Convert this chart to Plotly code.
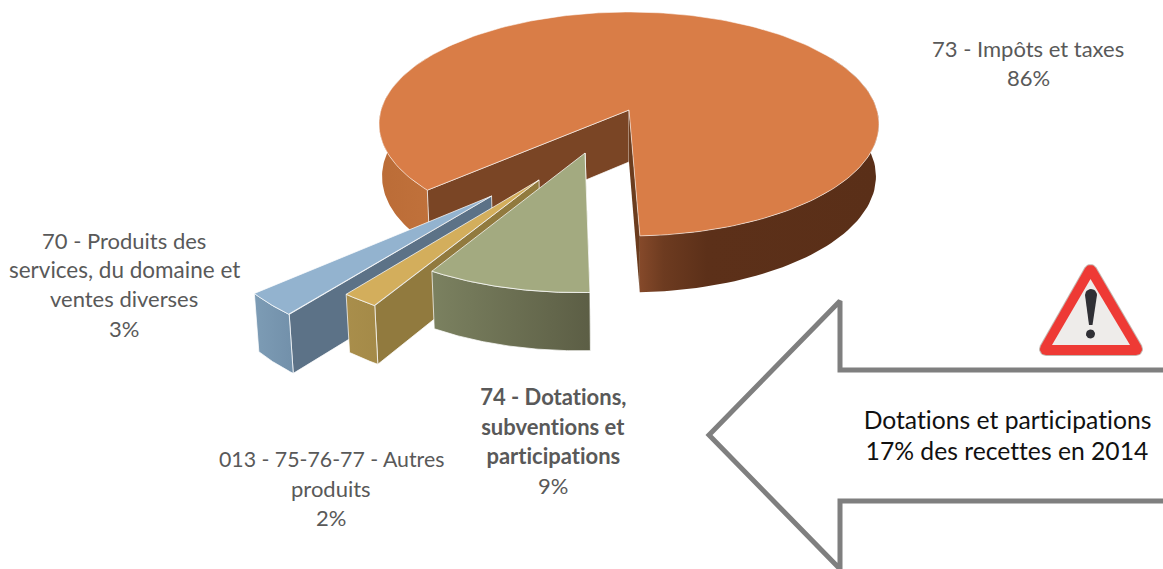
import math
import plotly.graph_objects as go

# ---- chart data ----
categories = ["73 - Impôts et taxes", "74 - Dotations, subventions et participations",
              "013 - 75-76-77 - Autres produits", "70 - Produits des services, du domaine et ventes diverses"]
shares = [86, 9, 2, 3]
pulls_u = [0.0, -0.169, -0.336, -0.505]
pulls_v = [0.0, -0.372, -0.588, -0.711]

# ---- colours ----
TOP = ["#d97d47", "#a3aa80", "#d3ae5c", "#93b3cf"]
WALL = [["#bb6c37", "#c0713b"], ["#7b8160", "#5c5e45"], ["#a98e4b", "#a48a48"], ["#7d9cb5", "#7290aa"]]
FACE = ["#7a4525", "#5f5f45", "#917a3e", "#5c7287"]
EDGE = "rgba(255,255,255,0.72)"
NONE = "rgba(0,0,0,0)"
GREY = "#595959"

# ---- projection of the disc ----
START_ANGLE = 228.2
CX, CY, RX, RY, K = 629.0, 110.0, 248.0, 110.25, 0.125
BOTTOM_SCALE, DEPTH = 0.988, 52.0


def project(u, v, low=False):
    w = 1 + K * v
    x = CX + RX * u / w
    y = CY - RY * v / w
    if low:
        x = CX + (x - CX) * BOTTOM_SCALE
        y = y + DEPTH / w ** 0.6
    return x, y


def disc(i, angle, radius=1.0, low=False):
    a = math.radians(angle)
    return project(pulls_u[i] + radius * math.sin(a), pulls_v[i] + radius * math.cos(a), low)


def arc(i, a0, a1, low=False, n=70):
    return [disc(i, a0 + (a1 - a0) * t / n, 1.0, low) for t in range(n + 1)]


def poly(points, color=None, gradient=None, edge=EDGE, width=1.0):
    xs = [p[0] for p in points] + [points[0][0]]
    ys = [p[1] for p in points] + [points[0][1]]
    kw = dict(fillgradient=dict(type="horizontal", colorscale=gradient)) if gradient else dict(fillcolor=color)
    return go.Scatter(x=xs, y=ys, mode="lines", fill="toself", hoverinfo="skip", showlegend=False,
                      line=dict(color=edge, width=width), **kw)


def hull(points):
    pts = sorted(set(points))
    def half(seq):
        out = []
        for p in seq:
            while len(out) > 1 and (out[-1][0] - out[-2][0]) * (p[1] - out[-2][1]) - (out[-1][1] - out[-2][1]) * (p[0] - out[-2][0]) <= 0:
                out.pop()
            out.append(p)
        return out[:-1]
    return half(pts) + half(pts[::-1])


def rounded(vertices, r):
    return hull([(x + r * math.cos(t / 24 * math.tau), y + r * math.sin(t / 24 * math.tau))
                 for x, y in vertices for t in range(24)])


fig = go.Figure()

# spans of each slice, clockwise from the top
spans = []
a = START_ANGLE
for s in shares:
    spans.append((a, a + s * 3.6))
    a += s * 3.6

# main slice
a0, a1 = spans[0]
end = a1 - 360
fig.add_trace(poly(arc(0, 60, end) + arc(0, end, 60, True),
                   gradient=[[0, "#85492a"], [0.1, "#6d3b20"], [0.28, "#5c3019"], [1, "#5a2f18"]], edge=NONE))
fig.add_trace(poly(arc(0, a0, 300) + arc(0, 300, a0, True), gradient=[[0, WALL[0][0]], [1, WALL[0][1]]], edge=NONE))
apex, apex_low = disc(0, 0, 0), disc(0, 0, 0, True)
fig.add_trace(poly([apex, disc(0, a0), disc(0, a0, 1, True), apex_low], FACE[0], edge=EDGE))
fig.add_trace(poly([apex, disc(0, end), disc(0, end, 1, True), apex_low], "#6b3c1e", edge=NONE))
fig.add_trace(poly([apex] + arc(0, a0, a1, n=220), TOP[0], edge="rgba(255,255,255,0.55)"))

# pulled slices: blue, tan, green
for i in (3, 2, 1):
    a0, a1 = spans[i]
    apex, apex_low = disc(i, 0, 0), disc(i, 0, 0, True)
    fig.add_trace(poly([apex, disc(i, a0), disc(i, a0, 1, True), apex_low], FACE[i]))
    fig.add_trace(poly(arc(i, a0, a1) + arc(i, a1, a0, True), gradient=[[0, WALL[i][0]], [1, WALL[i][1]]]))
    fig.add_trace(poly([apex] + arc(i, a0, a1), TOP[i]))

# call-out arrow
arrow_x = [1170, 840, 840, 709, 840, 840, 1170]
arrow_y = [370, 370, 301, 435, 569, 501, 501]
fig.add_trace(go.Scatter(x=arrow_x, y=arrow_y, mode="lines", hoverinfo="skip", showlegend=False,
                         line=dict(color="#7f7f7f", width=5)))

# warning sign
sign = [(1090.5, 271), (1046, 349), (1136, 349)]
fig.add_trace(poly(rounded(sign, 7), "#c4b5ae", edge=NONE))
fig.add_trace(poly(rounded(sign, 6), "#ee3a35", edge=NONE))
fig.add_trace(poly([(1090.5, 279), (1052, 345), (1130, 345)], "#eeecea", edge=NONE))
fig.add_trace(poly(hull(rounded([(1091, 295)], 6) + [(1089, 325), (1092.5, 325)]), "#303035", edge=NONE))
fig.add_trace(poly(rounded([(1090.5, 334)], 4.5), "#303035", edge=NONE))

# ---- text, one entry per line ----
labels = [
    ("73 - Impôts et taxes", 1028, 48, GREY, 22), ("86%", 1028, 77, GREY, 22),
    ("70 - Produits des", 124, 240, GREY, 22), ("services, du domaine et", 124, 269, GREY, 22.5),
    ("ventes diverses", 124, 298, GREY, 22), ("3%", 124, 328, GREY, 22),
    ("013 - 75-76-77 - Autres", 331, 459, GREY, 21.3), ("produits", 331, 488, GREY, 22), ("2%", 331, 517, GREY, 22),
    ("<b>74 - Dotations,</b>", 553, 396, GREY, 22), ("<b>subventions et</b>", 553, 426, GREY, 22),
    ("<b>participations</b>", 553, 455, GREY, 22), ("9%", 553, 485, GREY, 22),
    ("Dotations et participations", 1007, 419, "#111111", 24.7), ("17% des recettes en 2014", 1007, 450, "#111111", 24.7),
]
for text, x, y, col, size in labels:
    fig.add_annotation(x=x, y=y, text=text, showarrow=False, xanchor="center", yanchor="middle",
                       font=dict(family="Lato", size=size, color=col))

fig.update_layout(width=1163, height=569, margin=dict(l=0, r=0, t=0, b=0), autosize=False,
                  paper_bgcolor="white", plot_bgcolor="white", showlegend=False,
                  xaxis=dict(range=[0, 1163], visible=False, fixedrange=True),
                  yaxis=dict(range=[569, 0], visible=False, fixedrange=True))
PAGE_FIX = ("document.body.style.margin='0';"
            "var s=document.createElement('style');"
            "s.textContent='svg text{font-variant-ligatures:none !important}';"
            "document.head.appendChild(s);")
fig.write_html("out.html", config=dict(displayModeBar=False), post_script=PAGE_FIX)
